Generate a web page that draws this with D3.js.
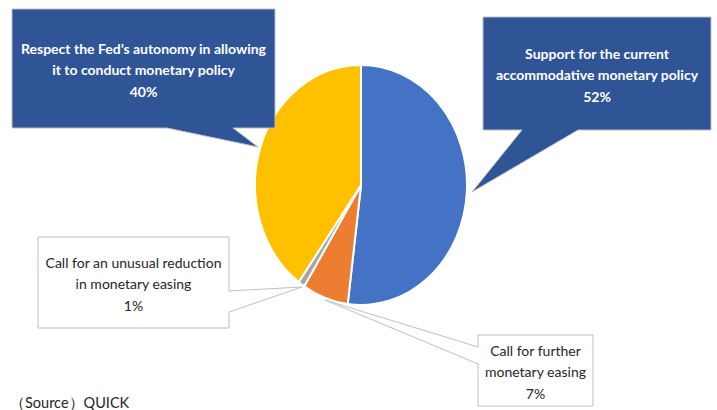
<!DOCTYPE html>
<html>
<head>
<meta charset="utf-8">
<script src="https://cdn.jsdelivr.net/npm/d3@7"></script>
<style>
  body { margin: 0; background: #fff; }
  svg { display: block; font-family: Lato, "Noto Sans", sans-serif; }
</style>
</head>
<body>
<div class="svg-container"></div>
<script>
// chart data
const labels = [
  ["Support for the current", "accommodative monetary policy"],
  ["Call for further", "monetary easing"],
  ["Call for an unusual reduction", "in monetary easing"],
  ["Respect the Fed\u2019s autonomy in allowing", "it to conduct monetary policy"]
];
const values = [52, 7, 1, 40];
const colors = ["#4472C4", "#ED7D31", "#A5A5A5", "#FFC000"];

// callout layout: box x,y,w,h, side the pointer leaves from, pointer base, tip
const callouts = [
  {box: [483, 17, 228, 113], side: "bottom", base: [522, 578], tip: [472, 192], dark: true},
  {box: [478, 335, 115, 71], side: "left", base: [347, 364], tip: [325, 300], dark: false},
  {box: [38, 237, 191, 91], side: "right", base: [291, 312], tip: [302, 287], dark: false},
  {box: [12, 9, 263, 119], side: "bottom", base: [167, 233], tip: [258, 147], dark: true}
];

const width = 717, height = 410;
const cx = 361, cy = 185, rx = 106, ry = 120;

var svg = d3.select(".svg-container").append("svg")
  .attr("width", width)
  .attr("height", height);

var pie = d3.pie().sort(null).value(function(d) { return d; });
var arc = d3.arc().innerRadius(0).outerRadius(ry);

// pie drawn as a circle then squashed horizontally
var pieGroup = svg.append("g")
  .attr("transform", "translate(" + cx + "," + cy + ") scale(" + (rx / ry) + ",1)");

pieGroup.selectAll("path.slice")
  .data(pie(values))
  .enter()
  .append("path")
  .attr("class", "slice")
  .attr("d", arc)
  .attr("fill", function(d, i) { return colors[i]; })
  .attr("stroke", "#fff")
  .attr("stroke-width", 2)
  .attr("vector-effect", "non-scaling-stroke");

function calloutPath(c) {
  var x = c.box[0], y = c.box[1], w = c.box[2], h = c.box[3];
  var p = [[x, y], [x + w, y]];
  if (c.side == "right") {
    p.push([x + w, c.base[0]], c.tip, [x + w, c.base[1]]);
  }
  p.push([x + w, y + h]);
  if (c.side == "bottom") {
    p.push([c.base[1], y + h], c.tip, [c.base[0], y + h]);
  }
  p.push([x, y + h]);
  if (c.side == "left") {
    p.push([x, c.base[1]], c.tip, [x, c.base[0]]);
  }
  return "M" + p.map(function(q) { return q.join(","); }).join("L") + "Z";
}

var calloutGroups = svg.selectAll("g.callout")
  .data(callouts)
  .enter()
  .append("g")
  .attr("class", "callout");

calloutGroups.append("path")
  .attr("d", calloutPath)
  .attr("fill", function(d) { return d.dark ? "#2F5597" : "#fff"; })
  .attr("stroke", "#BFBFBF")
  .attr("stroke-width", 1);

calloutGroups.each(function(d, i) {
  var lines = labels[i].concat([values[i] + "%"]);
  var midX = d.box[0] + d.box[2] / 2;
  var midY = d.box[1] + d.box[3] / 2;
  var lineH = 21.5;
  d3.select(this).selectAll("text")
    .data(lines)
    .enter()
    .append("text")
    .attr("x", midX)
    .attr("y", function(t, j) { return midY + (j - 1) * lineH + 2; })
    .attr("dy", "0.35em")
    .attr("text-anchor", "middle")
    .attr("font-size", 14)
    .attr("font-weight", d.dark ? "bold" : "normal")
    .attr("fill", d.dark ? "#fff" : "#262626")
    .text(function(t) { return t; });
});

svg.append("text")
  .attr("x", 10)
  .attr("y", 403)
  .attr("dy", "0.35em")
  .attr("font-size", 14.5)
  .attr("fill", "#262626")
  .text("\uFF08Source\uFF09QUICK");
</script>
</body>
</html>
